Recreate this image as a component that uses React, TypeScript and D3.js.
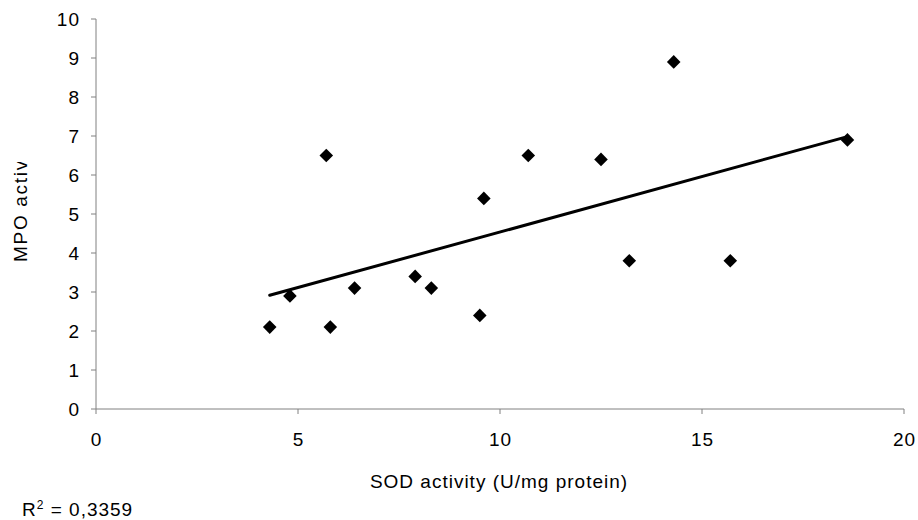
import React from "react";
import * as d3 from "d3";

const sod = [4.3, 4.8, 5.7, 5.8, 6.4, 7.9, 8.3, 9.5, 9.6, 10.7, 12.5, 13.2, 14.3, 15.7, 18.6];
const mpo = [2.1, 2.9, 6.5, 2.1, 3.1, 3.4, 3.1, 2.4, 5.4, 6.5, 6.4, 3.8, 8.9, 3.8, 6.9];
const xTicks = [0, 5, 10, 15, 20];
const yTicks = [0, 1, 2, 3, 4, 5, 6, 7, 8, 9, 10];

const W = 918;
const H = 520;
const font = "'Liberation Sans', Arial, sans-serif";
const fs = 19;
const ls = 1;

const App = () => {
  const x = d3.scaleLinear().domain([0, 20]).range([96, 904]);
  const y = d3.scaleLinear().domain([0, 10]).range([409, 19]);

  // least squares trend line
  const mx = d3.mean(sod) as number;
  const my = d3.mean(mpo) as number;
  const sxy = d3.sum(sod, (v, i) => (v - mx) * (mpo[i] - my));
  const sxx = d3.sum(sod, (v) => (v - mx) * (v - mx));
  const slope = sxy / sxx;
  const icpt = my - slope * mx;
  const [x0, x1] = d3.extent(sod) as [number, number];
  const trend = d3.line<number>().x((v) => x(v)).y((v) => y(icpt + slope * v));

  const diamond = d3.symbol().type(d3.symbolSquare).size(92)();
  const axisColor = "#808080";

  return (
    <svg
      width={W}
      height={H}
      style={{ position: "absolute", left: 0, top: 0 }}
      fontFamily={font}
      fontSize={fs}
      letterSpacing={ls}
    >
      <defs>
        <clipPath id="ylab">
          <rect x={0} y={162} width={60} height={120} />
        </clipPath>
      </defs>
      <rect width={W} height={H} fill="#fff" />

      {/* axes */}
      <line x1={x(0)} x2={x(0)} y1={y(10)} y2={y(0)} stroke={axisColor} strokeWidth={1} />
      <line x1={x(0)} x2={x(20)} y1={y(0)} y2={y(0)} stroke={axisColor} strokeWidth={1} />
      {yTicks.map((t) => (
        <g key={"y" + t}>
          <line x1={x(0) - 5} x2={x(0)} y1={y(t)} y2={y(t)} stroke={axisColor} />
          <text x={80} y={y(t)} dy="0.35em" textAnchor="end" fill="#000">
            {t}
          </text>
        </g>
      ))}
      {xTicks.map((t) => (
        <g key={"x" + t}>
          <line x1={x(t)} x2={x(t)} y1={y(0)} y2={y(0) + 5} stroke={axisColor} />
          <text x={x(t) + 0.5} y={446} textAnchor="middle" fill="#000">
            {t}
          </text>
        </g>
      ))}

      {/* trend line */}
      <path d={trend([x0, x1]) as string} fill="none" stroke="#000" strokeWidth={3} strokeLinecap="round" />

      {/* points */}
      {sod.map((v, i) => (
        <path key={i} d={diamond as string} transform={`translate(${x(v)},${y(mpo[i])}) rotate(45)`} fill="#000" />
      ))}

      {/* titles */}
      <text x={499} y={488} textAnchor="middle" fill="#000">
        SOD activity (U/mg protein)
      </text>
      <g clipPath="url(#ylab)">
        <text transform="translate(27,262) rotate(-90)" fill="#000" letterSpacing={1.7}>
          MPO activity
        </text>
      </g>
      <text x={22} y={516} fill="#000">
        R<tspan fontSize={12} dy={-7}>2</tspan>
        <tspan dy={7}> = 0,3359</tspan>
      </text>
    </svg>
  );
};

export default App;
